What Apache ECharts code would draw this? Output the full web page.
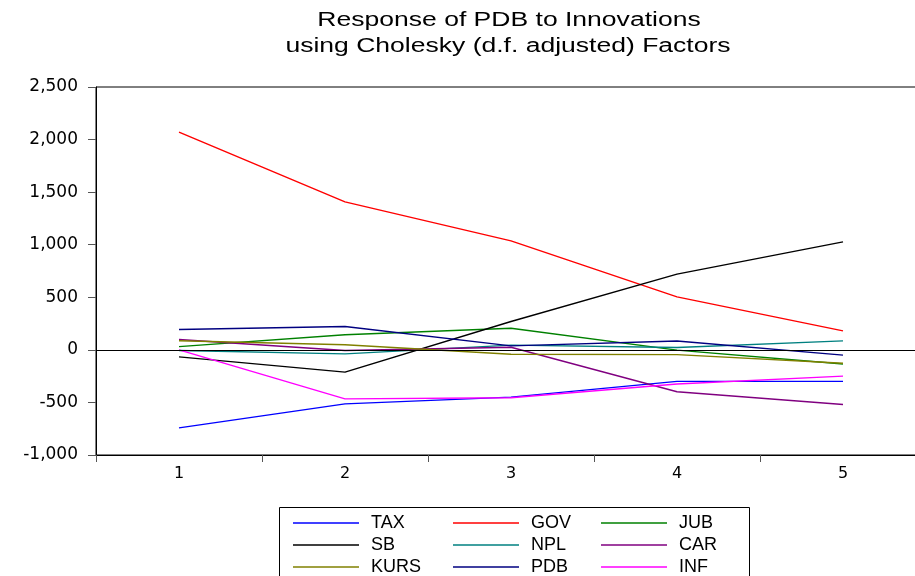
<!DOCTYPE html>
<html>
<head>
<meta charset="utf-8">
<script src="https://cdn.jsdelivr.net/npm/echarts@6/dist/echarts.min.js"></script>
<style>html,body{margin:0;padding:0;background:#fff;overflow:hidden}#c{width:930px;height:576px}</style>
</head>
<body>
<div id="c"></div>
<script>
var categories = ['1', '2', '3', '4', '5'];
var TAX  = [-742, -514, -450, -300, -300];
var GOV  = [2070, 1408, 1037, 504, 180];
var JUB  = [31, 143, 205, -3, -135];
var SB   = [-67, -212, 270, 720, 1027];
var NPL  = [-6, -38, 45, 23, 85];
var CAR  = [98, -6, 25, -398, -520];
var KURS = [86, 48, -42, -45, -128];
var PDB  = [193, 222, 38, 84, -50];
var INF  = [0, -466, -455, -325, -250];
var seriesNames = ['TAX', 'GOV', 'JUB', 'SB', 'NPL', 'CAR', 'KURS', 'PDB', 'INF'];
var seriesData = [TAX, GOV, JUB, SB, NPL, CAR, KURS, PDB, INF];
var colors = ['#0000ff', '#ff0000', '#008000', '#000000', '#008080', '#800080', '#808000', '#000080', '#ff00ff'];
var titleLines = ['Response of PDB to Innovations', 'using Cholesky (d.f. adjusted) Factors'];

var FONT = '"Liberation Sans", Arial, sans-serif';
var WIDE = '"DejaVu Sans", sans-serif';
var chart = echarts.init(document.getElementById('c'), null, {renderer: 'canvas'});

var series = seriesNames.map(function (n, i) {
  var s = {
    name: n, type: 'line', data: seriesData[i], symbol: 'none',
    lineStyle: {color: colors[i], width: 1.4}, itemStyle: {color: colors[i]},
    animation: false, z: 3
  };
  if (i === 0) {
    s.markLine = {
      silent: true, symbol: ['none', 'none'], label: {show: false},
      lineStyle: {color: '#000', width: 1, type: 'solid'},
      data: [{yAxis: 0}], animation: false
    };
  }
  return s;
});

function legendCol(names, left) {
  return {
    orient: 'vertical', left: left, top: 514, padding: 0,
    data: names, icon: 'rect', itemWidth: 66, itemHeight: 1.6, itemGap: 4,
    textStyle: {fontFamily: FONT, fontSize: 18, color: '#000', padding: [0, 0, 0, 7], lineHeight: 18},
    selectedMode: false
  };
}

chart.setOption({
  backgroundColor: '#fff',
  animation: false,
  grid: {left: 96, top: 87, width: 830, height: 368, show: true, borderColor: '#000', borderWidth: 1, containLabel: false},
  xAxis: {
    type: 'category', data: categories, boundaryGap: true,
    axisLine: {show: true, onZero: false, lineStyle: {color: '#000', width: 1}},
    axisTick: {show: true, length: 7, lineStyle: {color: '#555'}},
    axisLabel: {fontFamily: WIDE, fontSize: 16, color: '#000', margin: 11},
    splitLine: {show: false}
  },
  yAxis: {
    type: 'value', min: -1000, max: 2500, interval: 500,
    axisLine: {show: true, lineStyle: {color: '#000', width: 1}},
    axisTick: {show: true, length: 8, lineStyle: {color: '#555'}},
    axisLabel: {fontFamily: WIDE, fontSize: 17, color: '#000', margin: 18,
      formatter: function (v) { return v.toLocaleString('en-US'); }},
    splitLine: {show: false}
  },
  legend: [
    legendCol(['TAX', 'SB', 'KURS'], 293),
    legendCol(['GOV', 'NPL', 'PDB'], 453),
    legendCol(['JUB', 'CAR', 'INF'], 601)
  ],
  graphic: [
    {type: 'rect', shape: {x: 279.5, y: 507.5, width: 470, height: 80},
      style: {fill: 'none', stroke: '#000', lineWidth: 1}, z: 0},
    {type: 'text', x: 509, y: 21, scaleX: 1.36,
      style: {text: titleLines[0], fontFamily: FONT, fontSize: 19.5, fill: '#000', align: 'center', verticalAlign: 'middle'}},
    {type: 'text', x: 508, y: 47, scaleX: 1.36,
      style: {text: titleLines[1], fontFamily: FONT, fontSize: 19.5, fill: '#000', align: 'center', verticalAlign: 'middle'}}
  ],
  series: series
});
</script>
</body>
</html>
